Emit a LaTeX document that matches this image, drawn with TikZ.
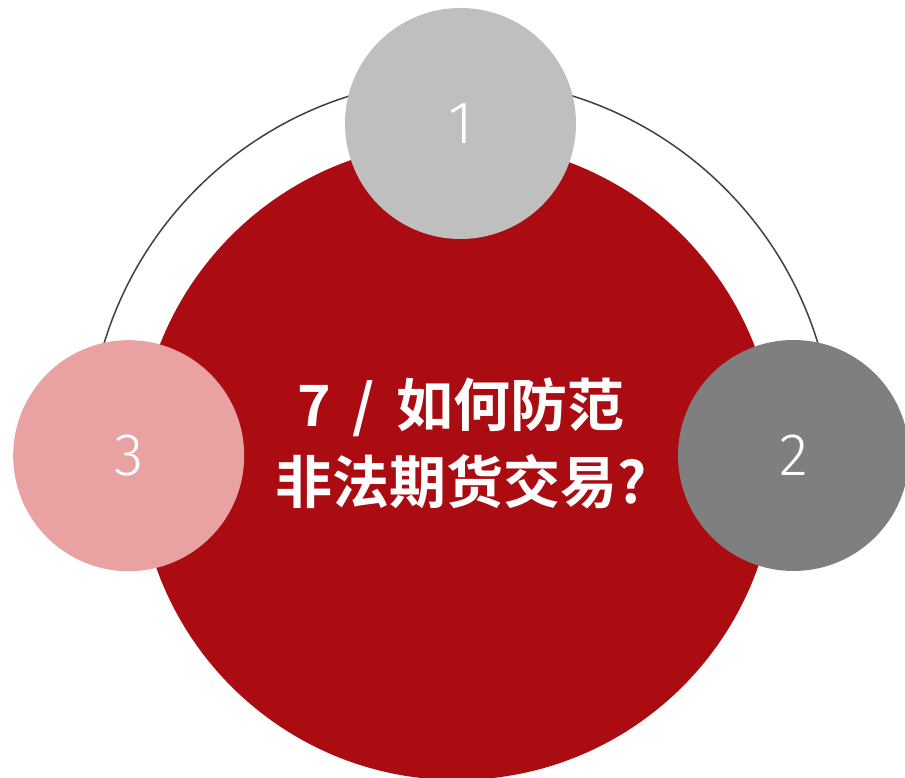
\documentclass[tikz,border=0pt]{standalone}
\usepackage{fontspec}
\newfontfamily\cjk{Noto Sans CJK SC}[BoldFont={Noto Sans CJK SC Bold}]
\newfontfamily\numfont{Fira Sans Light}
\definecolor{mainred}{HTML}{AA0C12}
\definecolor{cone}{HTML}{BFBFBF}
\definecolor{ctwo}{HTML}{7F7F7F}
\definecolor{cthree}{HTML}{E9A1A2}
\definecolor{arcgray}{HTML}{404040}
\begin{document}
\begin{tikzpicture}[x=1pt,y=1pt,
  satellite/.style={circle, inner sep=0pt, minimum size=231pt, text=white, font=\numfont\fontsize{60}{60}\selectfont},
  hub/.style={circle, inner sep=0pt, minimum size=638pt, fill=mainred}]
\useasboundingbox (0,0) rectangle (905,778);
\coordinate (ac) at (461,326);
\draw[arcgray, line width=1.5pt] (ac) ++(180:373) arc[start angle=180, end angle=0, radius=373];
\node[hub] (hub) at (457,317) {};
\node[text=white, font=\cjk\bfseries\fontsize{57}{77}\selectfont, align=center] (title) at (461,334.5) {7 \hspace{9pt}/ \hspace{9pt}如何防范\\非法期货交易?};
\node[satellite, fill=cone] (c1) at (460.5,654.5) {1};
\node[satellite, fill=ctwo] (c2) at (793.5,322.5) {2};
\node[satellite, fill=cthree] (c3) at (128.7,322.3) {3};
\end{tikzpicture}
\end{document}
